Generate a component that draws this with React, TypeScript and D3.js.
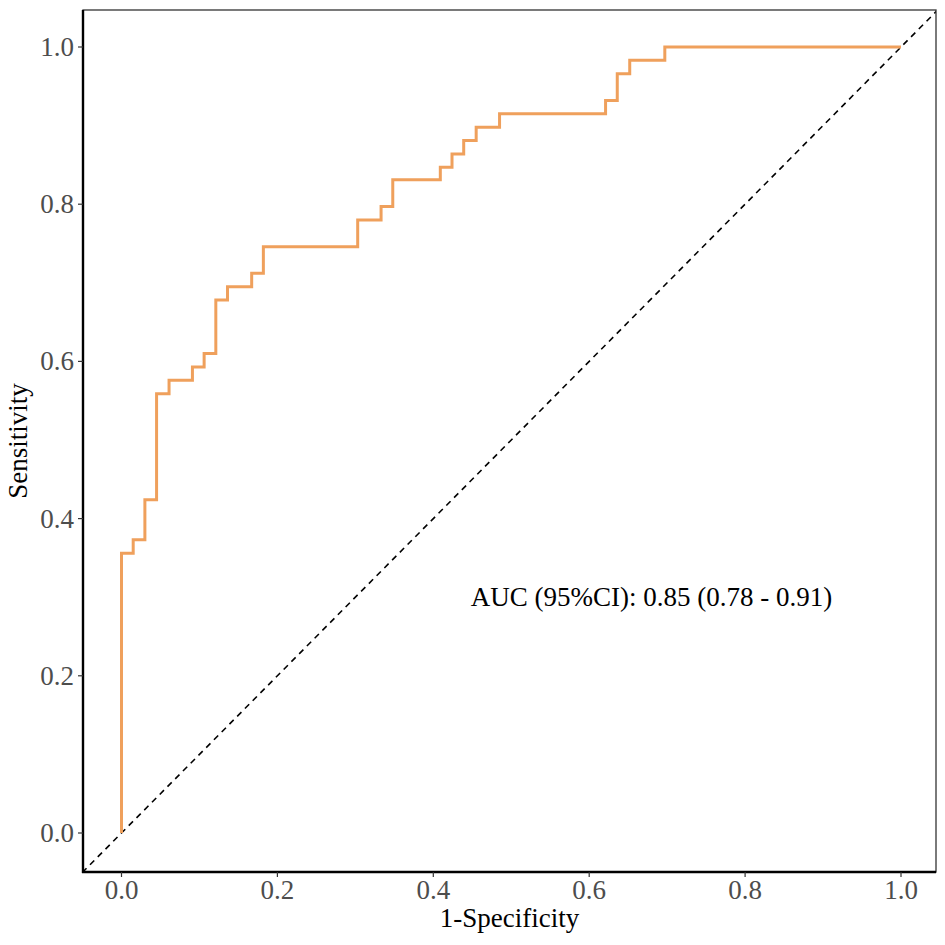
// ROC curve with the diagonal reference line, drawn with d3 scales and shapes
import * as d3 from "d3"

// ROC step points: each point is where the curve jumps up (step-after)
const fpr = [0, 0, 0.015, 0.030, 0.045, 0.061, 0.091, 0.106, 0.121, 0.136, 0.167, 0.182, 0.303, 0.333, 0.348, 0.409, 0.424, 0.439, 0.455, 0.485, 0.621, 0.636, 0.652, 0.697, 1]
const tpr = [0, 0.356, 0.373, 0.424, 0.559, 0.576, 0.593, 0.610, 0.678, 0.695, 0.712, 0.746, 0.780, 0.797, 0.831, 0.847, 0.864, 0.881, 0.898, 0.915, 0.932, 0.966, 0.983, 1, 1]

const xTicks = [0, 0.2, 0.4, 0.6, 0.8, 1.0]
const yTicks = [0, 0.2, 0.4, 0.6, 0.8, 1.0]
const aucLabel = "AUC (95%CI): 0.85 (0.78 - 0.91)"
const aucPos = { x: 0.68, y: 0.30 }

const W = 945
const H = 945
const panel = { left: 83, right: 936, top: 10, bottom: 872 }
const FONT = "'Liberation Serif', 'Times New Roman', serif"
const ORANGE = "#EFA05C"

export default function App() {
  const x = d3.scaleLinear().domain([0, 1]).range([121.5, 901])
  const y = d3.scaleLinear().domain([0, 1]).range([833, 47])

  const points: [number, number][] = fpr.map((f, i) => [f, tpr[i]])
  const line = d3.line<[number, number]>()
    .x(d => x(d[0]))
    .y(d => y(d[1]))
    .curve(d3.curveStepAfter)

  const diag = d3.line<number>().x(d => x(d)).y(d => y(d))

  return (
    <svg width={W} height={H} style={{ position: "absolute", left: 0, top: 0, background: "#fff" }} fontFamily={FONT}>
      <defs>
        <clipPath id="panel-clip">
          <rect x={panel.left} y={panel.top} width={panel.right - panel.left} height={panel.bottom - panel.top} />
        </clipPath>
      </defs>

      {/* diagonal reference */}
      <path
        d={diag([-0.1, 1.1]) || ""}
        stroke="#000"
        strokeWidth={1.6}
        strokeDasharray="6,5"
        fill="none"
        clipPath="url(#panel-clip)"
      />

      {/* ROC curve */}
      <path d={line(points) || ""} stroke={ORANGE} strokeWidth={3} fill="none" strokeLinejoin="miter" />

      {/* panel border: thin box plus heavier axis lines */}
      <rect
        x={panel.left}
        y={panel.top}
        width={panel.right - panel.left}
        height={panel.bottom - panel.top}
        fill="none"
        stroke="#333"
        strokeWidth={1.3}
      />
      <line x1={panel.left} x2={panel.left} y1={panel.top} y2={panel.bottom + 1} stroke="#000" strokeWidth={2.4} />
      <line x1={panel.left - 1} x2={panel.right} y1={panel.bottom} y2={panel.bottom} stroke="#000" strokeWidth={2.4} />

      {/* y axis */}
      {yTicks.map(t => (
        <g key={`y${t}`}>
          <line x1={panel.left - 5} x2={panel.left} y1={y(t)} y2={y(t)} stroke="#333" strokeWidth={1.2} />
          <text x={panel.left - 9} y={y(t)} dy="0.33em" textAnchor="end" fontSize={27} fill="#4d4d4d">
            {d3.format(".1f")(t)}
          </text>
        </g>
      ))}

      {/* x axis */}
      {xTicks.map(t => (
        <g key={`x${t}`}>
          <line x1={x(t)} x2={x(t)} y1={panel.bottom} y2={panel.bottom + 5} stroke="#333" strokeWidth={1.2} />
          <text x={x(t)} y={899} textAnchor="middle" fontSize={27} fill="#4d4d4d">
            {d3.format(".1f")(t)}
          </text>
        </g>
      ))}

      {/* axis titles */}
      <text x={(panel.left + panel.right) / 2} y={927} textAnchor="middle" fontSize={27} fill="#000">
        1-Specificity
      </text>
      <text
        transform={`translate(27,${(panel.top + panel.bottom) / 2}) rotate(-90)`}
        textAnchor="middle"
        fontSize={27}
        fill="#000"
      >
        Sensitivity
      </text>

      {/* AUC annotation */}
      <text x={x(aucPos.x)} y={y(aucPos.y)} dy="0.33em" textAnchor="middle" fontSize={27} fill="#000">
        {aucLabel}
      </text>
    </svg>
  )
}
